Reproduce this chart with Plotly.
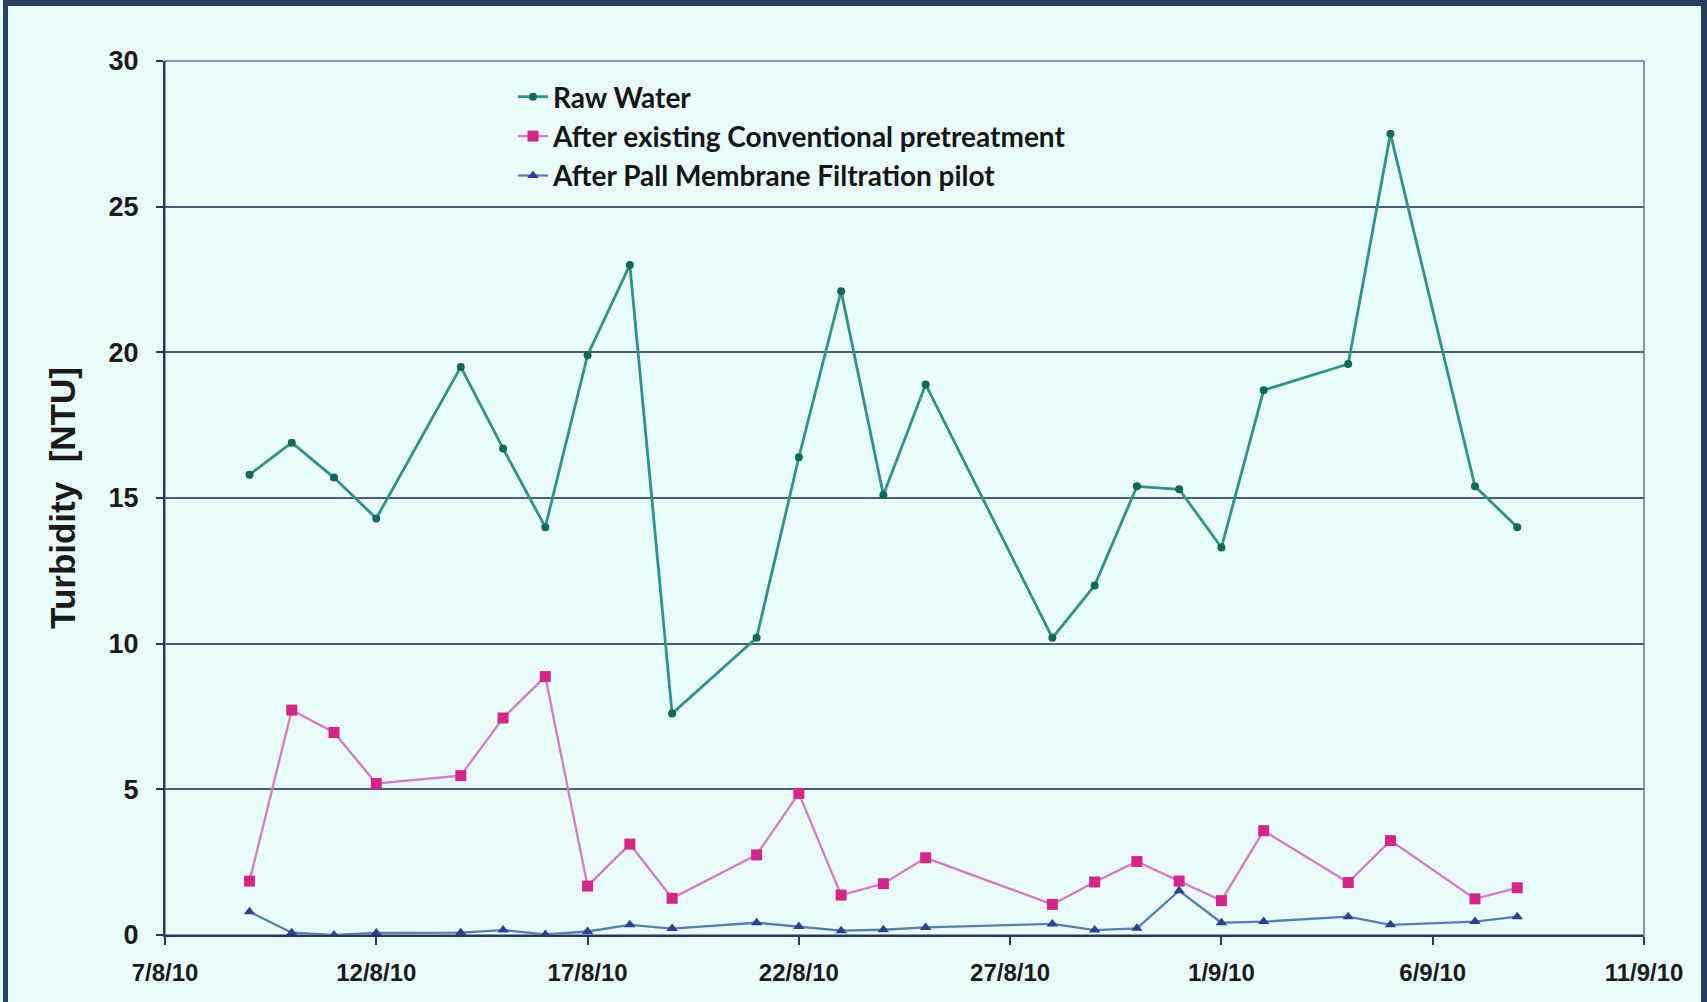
import plotly.graph_objects as go

# Sampling dates (Aug-Sep 2010)
dates = ["2010-08-09", "2010-08-10", "2010-08-11", "2010-08-12", "2010-08-14",
         "2010-08-15", "2010-08-16", "2010-08-17", "2010-08-18", "2010-08-19",
         "2010-08-21", "2010-08-22", "2010-08-23", "2010-08-24", "2010-08-25",
         "2010-08-28", "2010-08-29", "2010-08-30", "2010-08-31", "2010-09-01",
         "2010-09-02", "2010-09-04", "2010-09-05", "2010-09-07", "2010-09-08"]

# Turbidity readings in NTU
raw_water = [15.8, 16.9, 15.7, 14.3, 19.5, 16.7, 14.0, 19.9, 23.0, 7.6,
             10.2, 16.4, 22.1, 15.1, 18.9, 10.2, 12.0, 15.4, 15.3, 13.3,
             18.7, 19.6, 27.5, 15.4, 14.0]
conventional = [1.85, 7.72, 6.95, 5.2, 5.47, 7.45, 8.87, 1.68, 3.12, 1.26,
                2.75, 4.86, 1.37, 1.76, 2.65, 1.05, 1.82, 2.52, 1.85, 1.18,
                3.58, 1.8, 3.24, 1.24, 1.62]
membrane = [0.8, 0.08, 0.0, 0.07, 0.08, 0.17, 0.02, 0.12, 0.35, 0.22,
            0.42, 0.29, 0.15, 0.18, 0.26, 0.38, 0.17, 0.23, 1.52, 0.42,
            0.46, 0.63, 0.35, 0.46, 0.63]

series_names = ["Raw Water",
                "After existing Conventional pretreatment",
                "After Pall Membrane Filtration pilot"]

tick_dates = ["2010-08-07", "2010-08-12", "2010-08-17", "2010-08-22",
              "2010-08-27", "2010-09-01", "2010-09-06", "2010-09-11"]
tick_labels = ["7/8/10", "12/8/10", "17/8/10", "22/8/10",
               "27/8/10", "1/9/10", "6/9/10", "11/9/10"]
y_ticks = [0, 5, 10, 15, 20, 25, 30]

W, H = 1707, 1002
ML, MR, MT, MB = 165, 63, 61, 67
PW, PH = W - ML - MR, H - MT - MB

BG = "#e9fbfb"
GRID = "#4d5a7c"
AXIS = "#2a3656"
FRAME = "#263f5e"
SANS_BOLD = "Liberation Sans, Arial, sans-serif"


def px_x(p):
    return (p - ML) / PW


def px_y(p):
    return 1 - (p - MT) / PH


fig = go.Figure()

fig.add_trace(go.Scatter(
    x=dates, y=raw_water, name=series_names[0], mode="lines+markers",
    line=dict(color="#2c938d", width=2.8),
    marker=dict(symbol="circle", size=8, color="#0f6a58"),
))
fig.add_trace(go.Scatter(
    x=dates, y=conventional, name=series_names[1], mode="lines+markers",
    line=dict(color="#d47ac6", width=2.3),
    marker=dict(symbol="square", size=11, color="#d4268a"),
))
fig.add_trace(go.Scatter(
    x=dates, y=membrane, name=series_names[2], mode="lines+markers",
    line=dict(color="#5a7cb4", width=2.3),
    marker=dict(symbol="triangle-up", size=10, color="#2b3f98"),
))

shapes = [
    # plot-area outline
    dict(type="rect", xref="paper", yref="paper", x0=0, x1=1, y0=0, y1=1,
         line=dict(color="#6c7894", width=1.5), layer="below"),
    # outer frame: left, top, right
    dict(type="rect", xref="paper", yref="paper", x0=px_x(3), x1=px_x(8),
         y0=px_y(H), y1=px_y(0), fillcolor=FRAME, line=dict(width=0)),
    dict(type="rect", xref="paper", yref="paper", x0=px_x(3), x1=px_x(W),
         y0=px_y(6), y1=px_y(0), fillcolor=FRAME, line=dict(width=0)),
    dict(type="rect", xref="paper", yref="paper", x0=px_x(1701), x1=px_x(W),
         y0=px_y(H), y1=px_y(0), fillcolor=FRAME, line=dict(width=0)),
]

fig.update_layout(
    width=W, height=H,
    margin=dict(l=ML, r=MR, t=MT, b=MB),
    paper_bgcolor=BG, plot_bgcolor=BG,
    showlegend=True,
    legend=dict(
        x=px_x(513), y=px_y(72), xanchor="left", yanchor="top",
        bgcolor="rgba(0,0,0,0)", borderwidth=0,
        font=dict(family="Lato, Carlito, sans-serif", size=28,
                  color="#151515", weight="bold"),
        itemwidth=30, tracegroupgap=0,
    ),
    shapes=shapes,
    xaxis=dict(
        type="date", range=[tick_dates[0], tick_dates[-1]],
        tickmode="array", tickvals=tick_dates, ticktext=tick_labels,
        showgrid=False, zeroline=False,
        showline=True, linecolor=AXIS, linewidth=2,
        ticks="outside", ticklen=8, tickwidth=2, tickcolor=AXIS,
        tickfont=dict(family=SANS_BOLD, size=24, color="#1a1a1a", weight="bold"),
        ticklabelstandoff=7,
    ),
    yaxis=dict(
        range=[0, 30], tickmode="array", tickvals=y_ticks,
        showgrid=True, gridcolor=GRID, gridwidth=2, zeroline=False,
        showline=True, linecolor=AXIS, linewidth=2,
        ticks="outside", ticklen=7, tickwidth=2, tickcolor=AXIS,
        tickfont=dict(family=SANS_BOLD, size=27, color="#1a1a1a", weight="bold"),
        ticklabelstandoff=12,
        title=dict(text="Turbidity  [NTU]", standoff=22,
                   font=dict(family=SANS_BOLD, size=35, color="#1a1a1a",
                             weight="bold")),
    ),
)

fig.write_html("out.html")
